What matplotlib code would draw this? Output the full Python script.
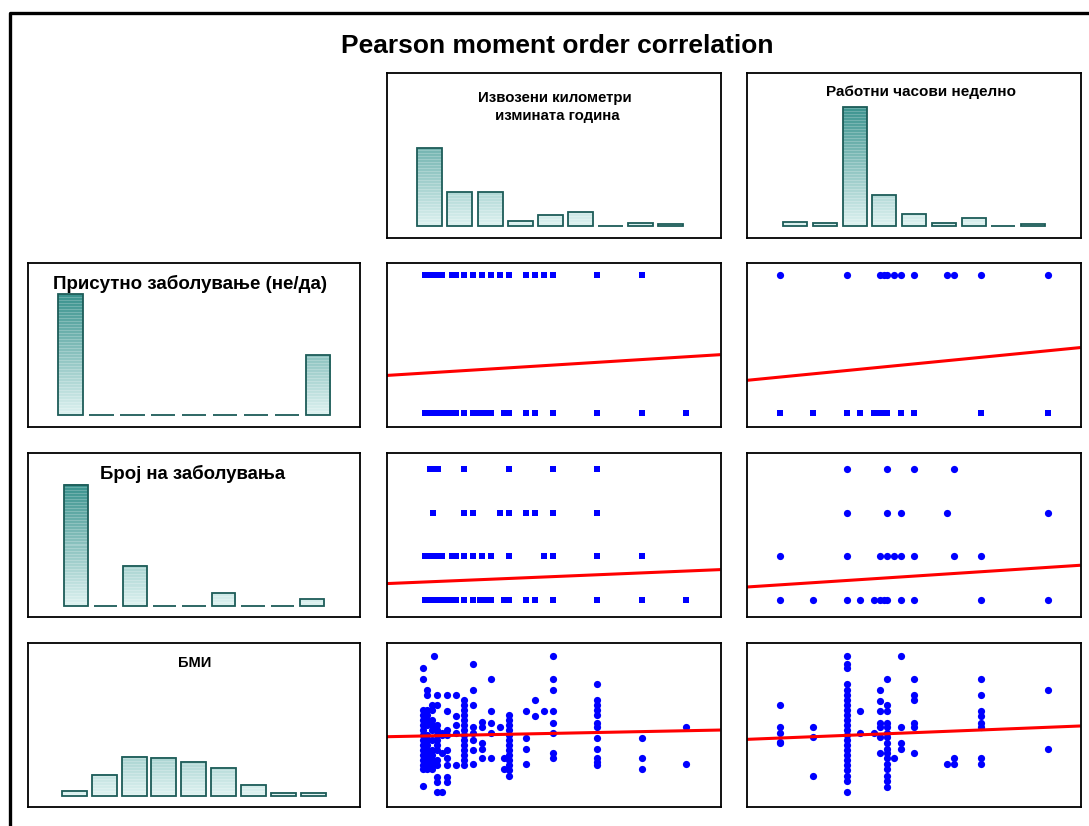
import numpy as np
import matplotlib.pyplot as plt
from matplotlib.lines import Line2D

plt.rcParams['font.family'] = ['Liberation Sans', 'DejaVu Sans']

# --- histograms (counts per class) ---
km_counts = [78, 34, 34, 5, 11, 14, 0, 3, 2]
hours_counts = [4, 3, 119, 31, 12, 3, 8, 0, 2]
disease_counts = [121, 0, 0, 0, 0, 0, 0, 0, 60]
n_disease_counts = [121, 0, 40, 0, 0, 13, 0, 0, 7]
bmi_counts = [5, 21, 39, 38, 34, 28, 11, 3, 3]

km_title = 'Извозени километри\n изминатa година'
hours_title = 'Работни часови неделно'
disease_title = 'Присутно заболување (не/да)'
n_disease_title = 'Број на заболувања'
bmi_title = 'БМИ'

# --- disease present (0/1) vs km (thousands) and hours ---
disease_km = {
    1: [0.5, 1, 1.5, 2, 2.5, 3.6, 4, 5, 6, 7, 8, 9, 10, 12, 13, 14, 15, 20, 25],
    0: [0.5, 1, 1.5, 2, 2.5, 3, 3.5, 4, 5, 6, 6.5, 7, 7.5, 8, 9.5, 10, 12, 13, 15, 20, 25, 30],
}
disease_hours = {
    1: [20, 40, 50, 51, 52, 54, 56, 60, 70, 72, 80, 100],
    0: [20, 30, 40, 44, 48, 50, 51, 52, 56, 60, 80, 100],
}

# --- number of diseases vs km and hours ---
n_disease_km = {
    3: [1.1, 1.5, 2, 5, 10, 15, 20],
    2: [1.5, 5, 6, 9, 10, 12, 13, 15, 20],
    1: [0.5, 1, 1.5, 2, 2.5, 3.6, 4, 5, 6, 7, 8, 10, 14, 15, 20, 25],
    0: [0.5, 1, 1.5, 2, 2.5, 3, 3.5, 4, 5, 6, 6.7, 7.4, 8, 9.5, 10, 12, 13, 15, 20, 25, 30],
}
n_disease_hours = {
    3: [40, 52, 60, 72],
    2: [40, 52, 56, 70, 100],
    1: [20, 40, 50, 52, 54, 56, 60, 72, 80],
    0: [20, 30, 40, 44, 48, 50, 51, 52, 56, 60, 80, 100],
}

# --- BMI vs km and hours ---
bmi_by_km = {
    0.3: [37.2, 35.6, 31.0, 30.2, 29.5, 28.8, 28.0, 27.2, 26.5, 25.8, 25.0, 24.2, 23.5, 22.8, 22.2, 19.6],
    0.8: [34.0, 33.2, 31.0, 30.2, 29.5, 28.8, 27.2, 26.5, 25.8, 25.0, 24.2, 23.5, 22.8, 22.2],
    1.3: [31.8, 31.0, 29.5, 28.8, 28.0, 26.5, 25.0, 24.2, 23.5, 22.8, 22.2],
    1.6: [39.0],
    1.9: [33.3, 31.8, 28.8, 28.0, 27.2, 26.5, 25.8, 25.0, 23.5, 22.8, 21.0, 20.2, 18.8],
    2.5: [27.6, 27.2, 24.5, 18.8],
    3: [33.3, 30.9, 28.0, 27.2, 25.0, 23.8, 22.8, 21.0, 20.2],
    4: [33.3, 30.1, 28.8, 27.6, 22.8],
    5: [32.5, 31.8, 31.0, 30.2, 29.5, 28.8, 28.0, 27.2, 26.5, 25.8, 25.0, 24.2, 23.5, 22.8],
    6: [37.9, 34.0, 31.7, 28.4, 27.5, 26.5, 25.0, 22.9],
    7: [29.2, 28.4, 26.0, 25.2, 23.8],
    8: [35.6, 30.9, 29.1, 27.6, 23.8],
    9: [28.4],
    9.5: [23.8, 22.2],
    10: [30.2, 29.5, 28.8, 28.0, 27.2, 26.5, 25.8, 25.0, 24.2, 23.5, 22.8, 22.0, 21.1],
    12: [30.9, 26.8, 25.2, 22.9],
    13: [32.5, 30.1],
    14: [30.9],
    15: [39.0, 35.6, 34.0, 30.9, 29.1, 27.6, 24.5, 23.8],
    20: [34.9, 32.5, 31.8, 31.0, 30.2, 29.1, 28.4, 26.8, 25.2, 23.8, 23.2, 22.8],
    25: [26.8, 23.8, 22.2],
    30: [28.4, 22.9],
}
bmi_by_hours = {
    20: [31.8, 28.4, 27.6, 26.2, 26.0],
    30: [28.4, 26.9, 21.2],
    40: [39.0, 37.9, 37.2, 34.9, 34.0, 33.2, 32.5, 31.8, 31.0, 30.2, 29.5, 28.8,
         28.0, 27.2, 26.5, 25.8, 25.0, 24.2, 23.5, 22.8, 22.0, 21.1, 20.4, 18.8],
    44: [30.9, 27.6],
    48: [27.6],
    50: [34.0, 32.4, 30.9, 29.1, 28.4, 26.9, 24.5],
    52: [35.6, 31.8, 30.9, 29.1, 28.4, 27.6, 26.9, 26.0, 25.2, 24.5, 23.8, 22.9,
         22.2, 21.1, 20.4, 19.5],
    54: [23.8],
    56: [39.0, 28.4, 26.0, 25.2],
    60: [35.6, 33.2, 32.5, 29.1, 28.4, 24.5],
    70: [22.9],
    72: [23.8, 22.9],
    80: [35.6, 33.2, 30.9, 30.1, 29.1, 28.4, 23.8, 22.9],
    100: [34.0, 25.2],
}

# regression lines (intercept, slope)
fit_disease_km = (0.289, 0.0040)
fit_disease_hours = (0.214, 0.00239)
fit_n_disease_km = (0.401, 0.00854)
fit_n_disease_hours = (0.239, 0.00503)
fit_bmi_km = (27.1, 0.0265)
fit_bmi_hours = (26.4, 0.0201)

W, H = 1089, 826
fig = plt.figure(figsize=(W / 100, H / 100), dpi=100)

cols = [(28, 360), (386.5, 720.5), (746.7, 1080.5)]
rows = [(73, 237.5), (263.3, 427), (452.7, 617), (643, 807)]


def add_panel(r, c):
    x0, x1 = cols[c]
    y0, y1 = rows[r]
    ax = fig.add_axes([x0 / W, 1 - y1 / H, (x1 - x0) / W, (y1 - y0) / H])
    ax.set_xticks([])
    ax.set_yticks([])
    for sp in ax.spines.values():
        sp.set_linewidth(1.3)
        sp.set_color('black')
    return ax, x1 - x0, y1 - y0


LIGHT = np.array([0.87, 0.95, 0.945])
DARK = np.array([0.20, 0.56, 0.54])


def bar_gradient(h):
    n = max(int(round(h)), 1)
    ys = np.arange(n) + 0.5
    t = np.clip(ys / 125.0, 0, 1)[:, None]
    rgb = LIGHT * (1 - t) + DARK * t
    stripe = (np.arange(n) % 3 == 0)
    rgb[stripe] = rgb[stripe] * 0.78 + 0.22
    return rgb[:, None, :]


def draw_hist(r, c, counts, left_px, step_px, width_px):
    ax, w_px, h_px = add_panel(r, c)
    x = np.arange(len(counts))
    wid = width_px / step_px
    xl = -wid / 2 - left_px / step_px
    for xi, cnt in zip(x, counts):
        if cnt > 0:
            ax.imshow(bar_gradient(cnt), extent=(xi - wid / 2, xi + wid / 2, 0, cnt),
                      origin='lower', aspect='auto', interpolation='nearest', zorder=1)
    ax.bar(x, counts, width=wid, fill=False, edgecolor='#1d5c58', linewidth=1.3, zorder=2)
    ax.set_xlim(xl, xl + w_px / step_px)
    ax.set_ylim(-11.5, h_px - 11.5)
    return ax


def draw_levels(r, c, levels, xlim, ylim, fit, markers):
    ax, _, _ = add_panel(r, c)
    for lev, xs in levels.items():
        m = markers.get(lev, markers['default'])
        ms = 4.6 if m == 's' else 5.2
        ax.plot(xs, [lev] * len(xs), ls='none', marker=m, ms=ms, color='#0000ff', mew=0)
    xx = np.array(xlim)
    ax.plot(xx, fit[0] + fit[1] * xx, color='#ff0000', lw=2.2, solid_capstyle='butt')
    ax.set_xlim(xlim)
    ax.set_ylim(ylim)
    return ax


def draw_bmi(r, c, groups, xlim, fit):
    ax, _, _ = add_panel(r, c)
    for xv, ys in groups.items():
        ax.plot([xv] * len(ys), ys, ls='none', marker='o', ms=5.2, color='#0000ff', mew=0)
    xx = np.array(xlim)
    ax.plot(xx, fit[0] + fit[1] * xx, color='#ff0000', lw=2.2, solid_capstyle='butt')
    ax.set_xlim(xlim)
    ax.set_ylim(16.5, 41.0)
    return ax


km_lim = (-3.8, 33.9)
hours_lim = (10.15, 109.65)

draw_hist(0, 1, km_counts, 30.8, 30.1, 25)
draw_hist(0, 2, hours_counts, 36.6, 29.7, 24)
draw_hist(1, 0, disease_counts, 30.3, 30.96, 24.3)
draw_hist(2, 0, n_disease_counts, 36.3, 29.5, 23.5)
draw_hist(3, 0, bmi_counts, 33.7, 29.9, 25)

draw_levels(1, 1, disease_km, km_lim, (-0.10, 1.087), fit_disease_km, {'default': 's'})
draw_levels(1, 2, disease_hours, hours_lim, (-0.10, 1.087), fit_disease_hours,
            {'default': 'o', 0: 's'})
draw_levels(2, 1, n_disease_km, km_lim, (-0.40, 3.38), fit_n_disease_km, {'default': 's'})
draw_levels(2, 2, n_disease_hours, hours_lim, (-0.40, 3.38), fit_n_disease_hours,
            {'default': 'o'})
draw_bmi(3, 1, bmi_by_km, km_lim, fit_bmi_km)
draw_bmi(3, 2, bmi_by_hours, hours_lim, fit_bmi_hours)


def ftext(x, y, s, size, **kw):
    fig.text(x / W, 1 - y / H, s, ha='center', va='center', fontsize=size,
             fontweight='bold', **kw)


ftext(557, 46, 'Pearson moment order correlation', 19)
ftext(555, 107, km_title, 10.8, linespacing=1.3)
ftext(921, 92, hours_title, 11)
ftext(190, 284, disease_title, 13.5)
ftext(193, 474, n_disease_title, 13.4)
ftext(195, 663, bmi_title, 10.5)

# outer frame
fig.add_artist(Line2D([10 / W, 10 / W, 1.0], [0, 1 - 13 / H, 1 - 13 / H],
                      color='black', lw=2.4, transform=fig.transFigure))

fig.savefig('out.png', dpi=100)
